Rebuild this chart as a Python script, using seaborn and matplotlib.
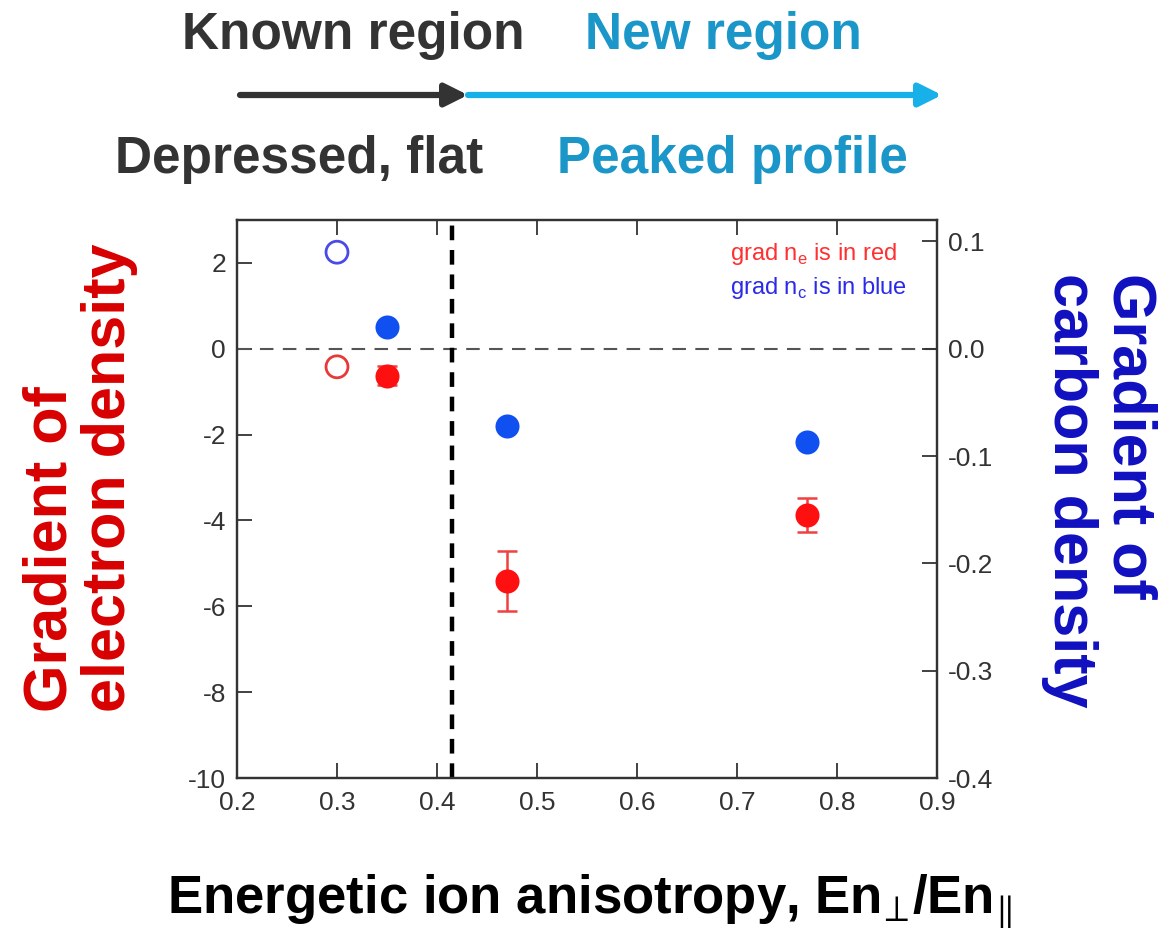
import matplotlib
matplotlib.use("Agg")
import matplotlib.pyplot as plt
from matplotlib.patches import FancyArrowPatch
import numpy as np
import pandas as pd
import seaborn as sns

# ── Data ────────────────────────────────────────────────────────────────────
x_open = [0.30]
ne_open = [-0.42]          # grad n_e, open symbol (left axis)
nc_open = [0.090]          # grad n_c, open symbol (right axis)

x_filled = [0.35, 0.47, 0.77]
ne_filled = [-0.63, -5.40, -3.87]
ne_err = [0.22, 0.70, 0.39]
nc_filled = [0.020, -0.072, -0.087]

x_ticks = [0.2, 0.3, 0.4, 0.5, 0.6, 0.7, 0.8, 0.9]
ne_ticks = [-10, -8, -6, -4, -2, 0, 2]
nc_ticks = [-0.4, -0.3, -0.2, -0.1, 0.0, 0.1]
boundary_x = 0.415

# ── Styling ────────────────────────────────────────────────────────────────
sns.set_style("ticks")
plt.rcParams["font.family"] = ["Liberation Sans", "DejaVu Sans"]
plt.rcParams["axes.unicode_minus"] = False
plt.rcParams["mathtext.fontset"] = "custom"
plt.rcParams["mathtext.rm"] = "Liberation Sans"
plt.rcParams["mathtext.bf"] = "Liberation Sans:bold"

RED = "#ff1010"
BLUE = "#1050f0"
DARK = "#333333"
CYAN = "#18b0e8"
CYAN_TXT = "#1a96c8"

fig = plt.figure(figsize=(11.76, 9.34), dpi=100)
ax = fig.add_axes([237 / 1176, 156 / 934, 700 / 1176, 558 / 934])
ax2 = ax.twinx()

df_open = pd.DataFrame({"x": x_open, "ne": ne_open, "nc": nc_open})
df_fill = pd.DataFrame({"x": x_filled, "ne": ne_filled, "nc": nc_filled, "err": ne_err})

# reference lines
ax.axhline(0, color="#555555", lw=1.5, ls=(0, (6.5, 4.5)), zorder=1)
ax.axvline(boundary_x, color="black", lw=3.2, ls=(0, (3.3, 2.2)), zorder=1)

# electron density (left axis, red)
ax.errorbar(df_fill["x"], df_fill["ne"], yerr=df_fill["err"], fmt="none",
            ecolor="#f04040", elinewidth=1.8, capsize=7, capthick=1.8, zorder=2)
sns.scatterplot(data=df_fill, x="x", y="ne", ax=ax, color=RED, s=300,
                edgecolor=RED, linewidth=0, zorder=3)
sns.scatterplot(data=df_open, x="x", y="ne", ax=ax, s=250, facecolor="none",
                edgecolor="#e83838", linewidth=2.0, zorder=3)

# carbon density (right axis, blue)
sns.scatterplot(data=df_fill, x="x", y="nc", ax=ax2, color=BLUE, s=300,
                edgecolor=BLUE, linewidth=0, zorder=3)
sns.scatterplot(data=df_open, x="x", y="nc", ax=ax2, s=250, facecolor="none",
                edgecolor="#4a4ae8", linewidth=2.0, zorder=3)

ax.set_xlim(0.2, 0.9)
ax.set_ylim(-10, 3)
ax2.set_ylim(-0.4, 0.12)
ax.set_xticks(x_ticks)
ax.set_xticklabels([f"{v:.1f}" for v in x_ticks])
ax.set_yticks(ne_ticks)
ax2.set_yticks(nc_ticks)
ax2.set_yticklabels([f"{v:.1f}" for v in nc_ticks])

for a in (ax, ax2):
    for sp in a.spines.values():
        sp.set_visible(True)
        sp.set_color(DARK)
        sp.set_linewidth(1.6)
ax.tick_params(axis="both", direction="in", length=11, width=1.3, color=DARK,
               labelsize=19, labelcolor=DARK, top=True, right=False)
ax.tick_params(axis="x", pad=9)
ax.tick_params(axis="y", pad=8)
ax2.tick_params(axis="y", direction="in", length=11, width=1.3, color=DARK,
                labelsize=19, labelcolor=DARK, pad=8)

# axis labels
ax.set_xlabel(r"Energetic ion anisotropy, En$_{\!\perp\!}$/En$_{\!\parallel}$",
              fontsize=38, fontweight="bold", color="black", va="center")
ax.xaxis.set_label_coords(0.504, -0.222)
ax.set_ylabel("Gradient of\nelectron density", fontsize=44, fontweight="bold",
              color="#d80000", ha="center", va="center", multialignment="left",
              linespacing=1.05)
ax.yaxis.set_label_coords(-0.224, 0.539)
ax2.set_ylabel("Gradient of\ncarbon density", fontsize=44, fontweight="bold",
               color="#1010c0", rotation=270, ha="center", va="center",
               multialignment="left", linespacing=1.05)
ax2.yaxis.set_label_coords(1.232, 0.516)

# in-plot note
ax.text(0.705, 0.928, "grad n$_\\mathregular{e}$ is in red", transform=ax.transAxes,
        fontsize=17, color="#ff3030")
ax.text(0.705, 0.868, "grad n$_\\mathregular{c}$ is in blue", transform=ax.transAxes,
        fontsize=17, color="#2a2ae8")

# header: regions and arrows
W, H = 1176, 934
fig.text(353 / W, 1 - 35 / H, "Known region", fontsize=37, fontweight="bold",
         color=DARK, ha="center", va="center")
fig.text(723 / W, 1 - 35 / H, "New region", fontsize=37, fontweight="bold",
         color=CYAN_TXT, ha="center", va="center")
fig.text(299 / W, 1 - 160 / H, "Depressed, flat", fontsize=37, fontweight="bold",
         color=DARK, ha="center", va="center")
fig.text(732 / W, 1 - 160 / H, "Peaked profile", fontsize=37, fontweight="bold",
         color=CYAN_TXT, ha="center", va="center")

y_arr = 1 - 95 / H
fig.add_artist(FancyArrowPatch((240 / W, y_arr), (468 / W, y_arr),
                               transform=fig.transFigure, arrowstyle="-|>",
                               mutation_scale=34, lw=4.5, color=DARK,
                               shrinkA=0, shrinkB=0))
fig.add_artist(FancyArrowPatch((468 / W, y_arr), (942 / W, y_arr),
                               transform=fig.transFigure, arrowstyle="-|>",
                               mutation_scale=34, lw=4.5, color=CYAN,
                               shrinkA=0, shrinkB=0))

fig.savefig("out.png", dpi=100)
plt.close(fig)
